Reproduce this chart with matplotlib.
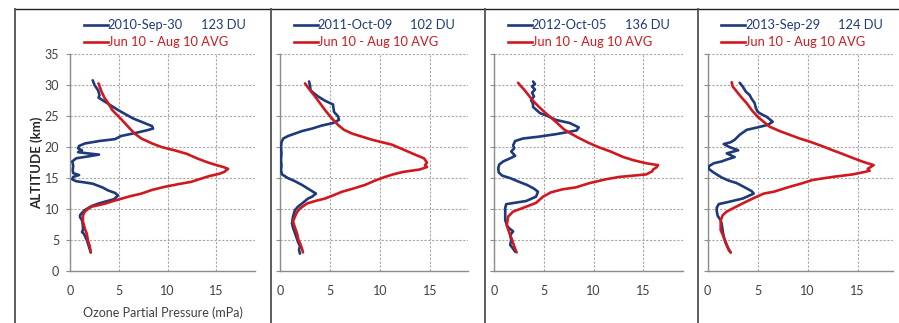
import matplotlib
matplotlib.use("Agg")
import matplotlib.pyplot as plt
from matplotlib.lines import Line2D

plt.rcParams['font.family'] = ['Lato', 'DejaVu Sans']

# ---------------- data ----------------
dates = ["2010-Sep-30", "2011-Oct-09", "2012-Oct-05", "2013-Sep-29"]
dobson = ["123 DU", "102 DU", "136 DU", "124 DU"]
avg_label = "Jun 10 - Aug 10 AVG"

# Panel 1 (2010)
blue1_p = [2.3, 2.5, 2.85, 3.0, 2.9, 3.5, 4.3, 4.9, 5.8, 6.5, 7.3, 8.4, 8.5, 7.8, 6.7, 5.2, 4.6, 3.0,
           1.5, 0.9, 0.8, 1.2, 0.8, 1.8, 2.95, 1.8, 0.6, 0.2, 0.3, 0.25, 0.3, 0.9, 0.3, 0.2, 0.6, 1.5,
           2.3, 3.3, 3.9, 4.6, 4.9, 4.5, 3.8, 2.9, 2.2, 1.5, 1.2, 1.0, 1.0, 1.2, 1.3, 1.3, 1.2, 1.4,
           1.6, 1.7, 1.9, 2.1]
blue1_z = [30.8, 30.0, 29.2, 28.4, 28.0, 27.4, 26.6, 26.0, 25.2, 24.6, 24.1, 23.4, 23.0, 22.7, 22.3,
           21.8, 21.3, 21.0, 20.6, 20.2, 19.8, 19.5, 19.2, 19.0, 18.8, 18.5, 18.2, 17.7, 17.0, 16.3,
           15.8, 15.5, 15.2, 14.8, 14.5, 14.3, 14.1, 13.5, 13.0, 12.6, 12.2, 11.6, 11.3, 10.9, 10.5,
           9.85, 9.4, 9.0, 8.7, 8.2, 7.2, 6.6, 6.3, 6.0, 5.3, 5.0, 4.0, 3.0]
red1_p = [2.9, 3.2, 3.5, 3.9, 4.3, 4.8, 5.3, 6.0, 6.6, 7.3, 8.4, 9.4, 10.7, 12.0, 13.0, 14.0, 15.0,
          15.7, 16.2, 15.8, 15.3, 14.2, 13.2, 12.4, 11.0, 9.7, 8.4, 7.3, 6.2, 5.3, 4.4, 3.6, 2.8,
          2.2, 1.8, 1.5, 1.3, 1.3, 1.5, 1.7, 1.8, 2.0, 2.1]
red1_z = [30.3, 29.0, 28.0, 27.1, 26.0, 25.2, 24.4, 23.2, 22.2, 21.4, 20.6, 20.0, 19.5, 18.9, 18.2,
          17.6, 17.1, 16.8, 16.5, 16.0, 15.7, 15.3, 14.8, 14.4, 14.0, 13.6, 13.1, 12.5, 12.1, 11.7,
          11.3, 10.9, 10.6, 10.4, 10.0, 9.6, 9.0, 8.0, 6.8, 6.0, 5.0, 4.0, 3.0]

# Panel 2 (2011)
blue2_p = [2.9, 3.0, 3.05, 3.4, 3.8, 4.5, 5.3, 5.4, 5.8, 5.9, 5.3, 4.2, 3.2, 2.2, 1.5, 0.8, 0.33,
           0.15, 0.1, 0.15, 0.1, 0.15, 0.1, 0.2, 0.8, 1.5, 2.2, 2.8, 3.3, 3.6, 3.2, 2.8, 2.2, 1.8,
           1.5, 1.3, 1.2, 1.3, 1.5, 1.8, 2.0, 1.9, 2.0]
blue2_z = [30.6, 30.0, 29.2, 28.7, 28.2, 27.5, 26.9, 25.7, 25.0, 24.4, 23.9, 23.5, 23.0, 22.6, 22.2,
           21.8, 21.4, 20.8, 20.0, 19.0, 18.0, 17.0, 16.3, 15.6, 15.0, 14.5, 13.9, 13.3, 12.8, 12.5,
           12.0, 11.7, 10.9, 10.4, 9.85, 8.8, 7.7, 7.0, 6.1, 4.7, 4.0, 3.4, 2.8]
red2_p = [2.5, 3.0, 3.5, 4.0, 4.5, 5.1, 5.8, 6.4, 7.2, 8.2, 9.2, 10.2, 11.2, 12.5, 13.5, 14.4, 14.7,
          14.5, 14.7, 14.0, 12.3, 11.3, 10.5, 9.5, 8.5, 7.3, 6.2, 5.3, 4.5, 3.5, 2.7, 2.0, 1.7, 1.5,
          1.3, 1.5, 1.7, 1.85, 2.0, 2.2, 2.3]
red2_z = [30.3, 29.2, 28.2, 27.1, 26.0, 24.8, 23.6, 22.8, 22.2, 21.7, 21.2, 20.8, 20.4, 19.5, 18.8,
          18.2, 17.5, 17.1, 16.8, 16.4, 16.0, 15.6, 15.2, 14.6, 13.9, 13.3, 12.8, 12.2, 11.7, 11.3,
          10.9, 10.1, 9.5, 8.8, 8.0, 7.0, 6.1, 5.0, 4.5, 3.6, 3.0]

# Panel 3 (2012)
blue3_p = [3.9, 4.1, 3.8, 4.1, 3.8, 4.0, 3.7, 3.9, 3.9, 4.6, 5.4, 6.2, 7.6, 8.5, 8.3, 6.2, 4.5, 2.9,
           2.1, 1.9, 2.0, 1.7, 2.1, 1.6, 0.9, 0.5, 0.4, 0.45, 0.8, 1.6, 2.5, 3.3, 4.0, 4.4, 4.2, 3.2,
           2.0, 1.2, 1.1, 1.1, 1.1, 1.3, 1.5, 1.9, 1.6, 1.7, 1.6, 1.9, 2.1]
blue3_z = [30.6, 30.2, 29.8, 29.3, 28.8, 28.2, 27.6, 27.0, 26.5, 25.5, 25.0, 24.4, 23.9, 23.2, 22.7,
           22.1, 21.7, 21.4, 21.0, 20.3, 19.8, 19.3, 18.6, 18.2, 17.7, 17.2, 16.6, 15.9, 15.4, 15.0,
           14.4, 13.9, 13.3, 12.8, 12.0, 11.3, 11.0, 10.8, 10.2, 9.2, 8.2, 7.3, 6.9, 6.4, 5.8, 5.0,
           4.2, 3.6, 3.1]
red3_p = [2.4, 2.6, 3.0, 3.4, 3.9, 4.5, 5.1, 5.7, 6.4, 7.0, 7.7, 8.5, 9.5, 10.5, 11.7, 13.0, 14.0,
          15.3, 16.5, 16.3, 16.0, 15.9, 15.3, 13.3, 12.6, 11.2, 9.6, 8.2, 6.9, 5.7, 4.9, 4.2, 2.9,
          1.9, 1.4, 1.25, 1.55, 1.8, 2.0, 2.25]
red3_z = [30.4, 30.0, 29.3, 28.5, 27.5, 26.5, 25.6, 24.8, 23.8, 22.9, 22.2, 21.5, 20.7, 20.0, 19.3,
          18.4, 17.9, 17.4, 17.1, 16.7, 16.4, 16.1, 15.6, 15.3, 15.2, 14.8, 14.2, 13.5, 13.2, 12.7,
          12.0, 11.0, 10.2, 9.6, 8.8, 7.4, 6.0, 5.0, 4.0, 3.0]

# Panel 4 (2013)
blue4_p = [3.2, 3.5, 3.8, 4.2, 4.4, 4.7, 4.8, 5.0, 5.4, 5.9, 6.5, 6.0, 5.0, 3.9, 3.2, 2.7, 2.3, 1.6,
           2.2, 3.05, 1.9, 2.7, 1.9, 1.4, 0.6, 0.1, 0.1, 0.6, 1.4, 2.1, 2.9, 3.6, 4.4, 4.6, 3.5, 2.2,
           1.1, 0.9, 0.9, 1.0, 1.3, 1.4, 1.5, 1.6, 1.8, 2.1, 2.3]
blue4_z = [30.4, 29.8, 29.0, 28.4, 27.8, 27.1, 26.4, 25.7, 25.3, 24.9, 24.1, 23.6, 23.2, 22.8, 22.0,
           21.2, 20.8, 20.5, 20.0, 19.5, 19.0, 18.4, 18.0, 17.7, 17.4, 16.9, 16.5, 15.9, 15.1, 14.6,
           14.2, 13.6, 12.9, 12.5, 11.7, 11.2, 10.8, 10.2, 9.7, 8.9, 8.2, 7.6, 6.5, 5.5, 4.5, 3.5,
           3.0]
red4_p = [2.4, 2.5, 2.9, 3.4, 3.9, 4.4, 5.0, 5.6, 6.2, 7.2, 8.2, 9.2, 10.2, 11.4, 12.5, 13.5, 14.6,
          15.6, 16.6, 16.3, 16.0, 16.2, 15.7, 14.5, 12.5, 10.5, 9.3, 8.2, 6.6, 5.6, 4.5, 3.6, 2.86,
          1.9, 1.5, 1.3, 1.3, 1.6, 1.8, 2.1, 2.3]
red4_z = [30.5, 29.8, 29.0, 28.0, 27.1, 26.0, 24.9, 24.1, 23.3, 22.6, 22.0, 21.4, 20.9, 20.2, 19.5,
          18.9, 18.2, 17.6, 17.1, 16.8, 16.5, 16.2, 16.0, 15.6, 15.2, 14.7, 14.1, 13.6, 12.8, 12.5,
          11.7, 11.0, 10.4, 9.6, 9.0, 8.2, 6.6, 5.5, 4.7, 3.4, 3.0]

x_ticks = [0, 5, 10, 15]
y_ticks = [0, 5, 10, 15, 20, 25, 30, 35]

# ---------------- layout ----------------
W, H = 899, 323
BLUE = '#1F3A7A'
RED = '#D0191F'
GRID = '#A6A6A6'
SPINE = '#8C8C8C'
TXT = '#404040'

fig = plt.figure(figsize=(W / 100, H / 100), dpi=100)

panels = [
    (blue1_p, blue1_z, red1_p, red1_z),
    (blue2_p, blue2_z, red2_p, red2_z),
    (blue3_p, blue3_z, red3_p, red3_z),
    (blue4_p, blue4_z, red4_p, red4_z),
]
# pixel boxes: left, right, top, bottom
boxes = [(70.3, 255, 54.3, 271), (280, 468, 54.3, 271), (494.3, 682.7, 54.3, 271), (707.7, 893, 54.3, 271)]
units_px = [9.74, 10.0, 9.93, 10.0]


def fx(px):
    return px / W


def fy(py):
    return 1 - py / H


for i, ((bp, bz, rp, rz), (l, r, t, b), upx) in enumerate(zip(panels, boxes, units_px)):
    ax = fig.add_axes([fx(l), fy(b), (r - l) / W, (b - t) / H])
    ax.plot(bp, bz, color=BLUE, lw=1.9, solid_capstyle='round', zorder=3)
    ax.plot(rp, rz, color=RED, lw=1.9, solid_capstyle='round', zorder=4)
    ax.set_xlim(0, (r - l) / upx)
    ax.set_ylim(0, 35)
    ax.set_xticks(x_ticks)
    ax.set_yticks(y_ticks)
    ax.grid(True, color=GRID, linestyle=(0, (2, 1.5)), linewidth=0.8, zorder=0)
    for s in ['top', 'right']:
        ax.spines[s].set_visible(False)
    for s in ['left', 'bottom']:
        ax.spines[s].set_color(SPINE)
        ax.spines[s].set_linewidth(1.0)
    ax.tick_params(axis='x', length=0, pad=10, labelsize=9, labelcolor=TXT)
    ax.tick_params(axis='y', length=3, color=SPINE, pad=5, labelsize=9, labelcolor=TXT)
    if i == 0:
        ax.set_ylabel('ALTITUDE (km)', fontsize=9.5, fontweight='bold', color='#262626', labelpad=1.5)
        ax.set_xlabel('Ozone Partial Pressure (mPa)', fontsize=9, color=TXT, labelpad=7)
    else:
        ax.tick_params(axis='y', labelleft=False)

    # legend (drawn manually to match the original layout)
    x0 = l + 13.5
    x1 = x0 + 24
    for (yy, col, lab, extra) in [(25, BLUE, dates[i], dobson[i]), (42, RED, avg_label, None)]:
        fig.add_artist(Line2D([fx(x0), fx(x1)], [fy(yy), fy(yy)], color=col, lw=1.9,
                              transform=fig.transFigure))
        fig.text(fx(x1), fy(yy), lab, color=col, fontsize=9.3, va='center', ha='left')
        if extra:
            fig.text(fx(x1 + 93), fy(yy), extra, color=col, fontsize=9.3, va='center', ha='left')

# frame / separators
fig.add_artist(Line2D([fx(15), fx(899)], [fy(9), fy(9)], color='#202020', lw=1.0,
                      transform=fig.transFigure))
for xs in [15, 271, 485, 698]:
    fig.add_artist(Line2D([fx(xs), fx(xs)], [fy(9), fy(323)], color='#505050', lw=1.3,
                          transform=fig.transFigure))

fig.savefig('out.png', dpi=100)
